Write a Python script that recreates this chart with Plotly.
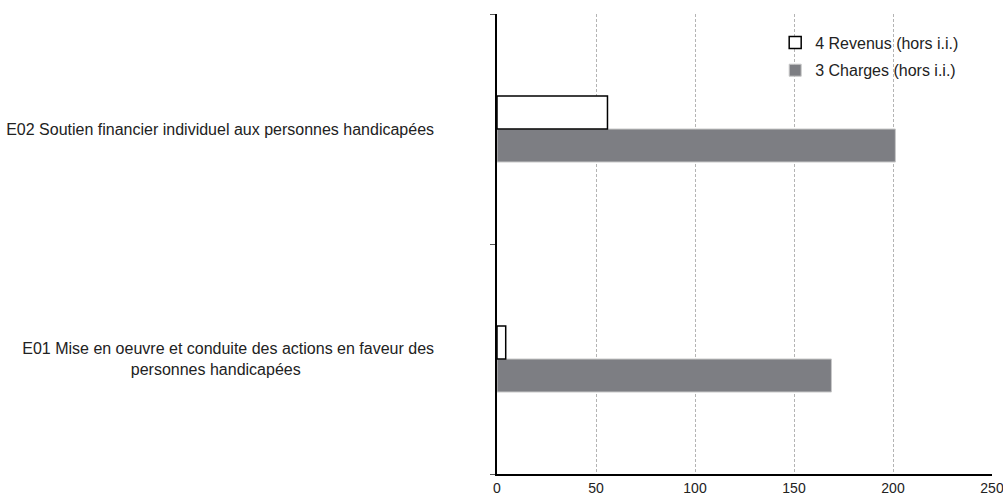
import plotly.graph_objects as go

NBSP = "\u00a0"

# Program categories (bottom to top on the y axis); the second line of the
# long label is padded so it sits under the middle of the first line
categories = [
    "E01 Mise en oeuvre et conduite des actions en faveur des<br>personnes handicapées" + NBSP * 30,
    "E02 Soutien financier individuel aux personnes handicapées",
]
charges = [168.9, 201.2]   # 3 Charges (hors i.i.)
revenus = [4.4, 55.8]      # 4 Revenus (hors i.i.)
x_ticks = [0, 50, 100, 150, 200, 250]

font_family = "Liberation Sans, Arial, sans-serif"
text_color = "#222222"

fig = go.Figure()
fig.add_trace(go.Bar(
    y=categories, x=charges, orientation="h",
    name="3 Charges (hors i.i.)", legendgroup="charges", legendrank=2,
    marker=dict(color="#7d7e83", line=dict(color="#c8c8c8", width=1)),
))
fig.add_trace(go.Bar(
    y=categories, x=revenus, orientation="h",
    name="4 Revenus (hors i.i.)", legendgroup="revenus", legendrank=1,
    marker=dict(color="#ffffff", line=dict(color="#000000", width=1.5)),
))

fig.update_layout(
    width=1003, height=498,
    margin=dict(l=497, r=11, t=14, b=24),
    paper_bgcolor="white", plot_bgcolor="white",
    barmode="group", bargap=0.713, bargroupgap=0,
    font=dict(family=font_family, size=16, color=text_color),
    showlegend=True,
    legend=dict(
        traceorder="grouped",
        x=0.562, y=0.975, xanchor="left", yanchor="top",
        bgcolor="rgba(0,0,0,0)",
        font=dict(size=16, color=text_color),
        itemwidth=30, tracegroupgap=4,
    ),
)
fig.update_xaxes(
    range=[0, 250], tickvals=x_ticks, ticktext=[str(v) for v in x_ticks],
    showgrid=True, gridcolor="#b4b4b4", gridwidth=1, griddash="3px,2px",
    showline=True, linecolor="#000000", linewidth=1.5,
    ticks="", zeroline=False, automargin=False, ticklabeloverflow="allow",
    tickfont=dict(size=14, color=text_color),
)
fig.update_yaxes(
    type="category", categoryorder="array", categoryarray=categories,
    showline=True, linecolor="#000000", linewidth=1.5,
    ticks="outside", tickson="boundaries", ticklen=5, tickcolor="#555555",
    showgrid=False, ticklabelstandoff=58, automargin=False,
    tickfont=dict(size=16, color=text_color),
)

fig.write_html("out.html")
